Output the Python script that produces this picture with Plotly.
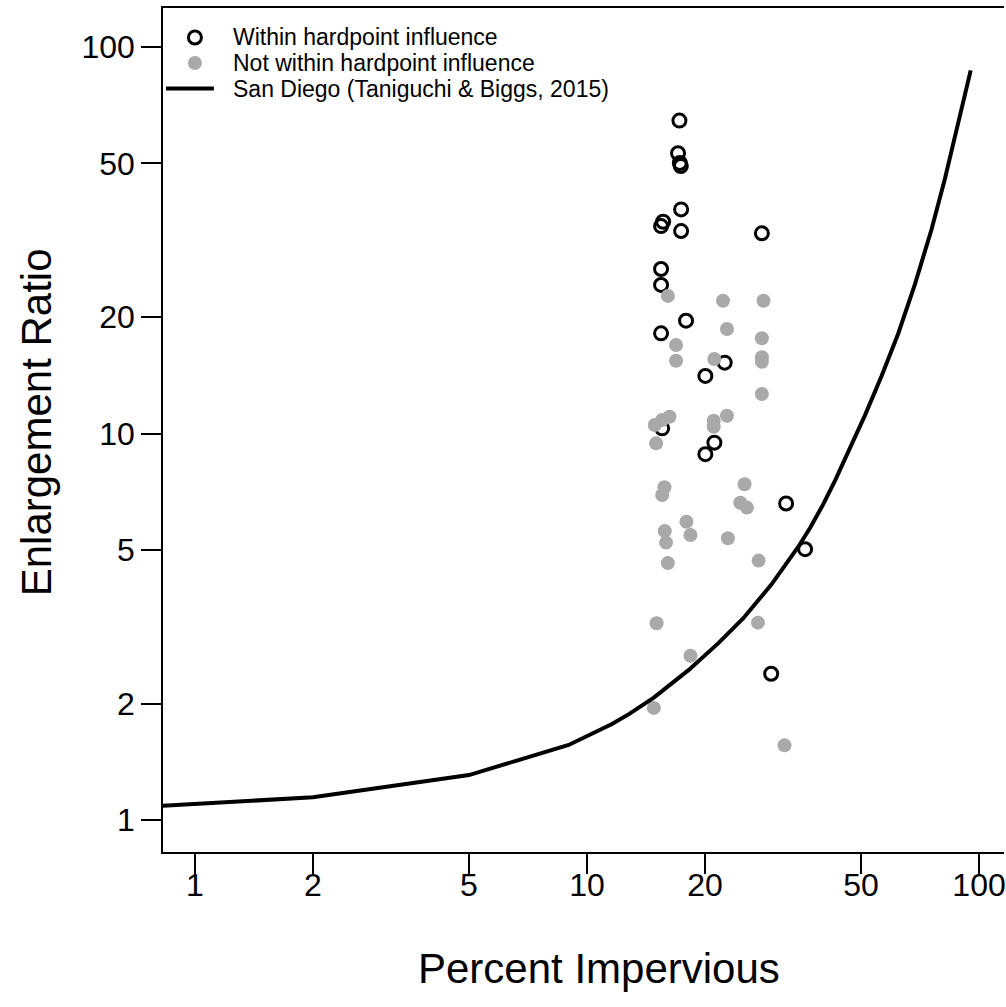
import plotly.graph_objects as go

# ---- data ----
within_x = [17.21, 17.07, 17.25, 17.35, 17.38, 15.64, 15.45, 17.38, 27.93, 15.45, 15.45,
            17.89, 15.45, 22.45, 20.04, 15.55, 21.13, 20.04, 32.2, 36.0, 29.5]
within_y = [64.5, 53.1, 50.1, 49.2, 38.0, 35.3, 34.4, 33.4, 32.96, 26.65, 24.23,
            19.58, 18.16, 15.25, 14.09, 10.31, 9.47, 8.84, 6.59, 5.02, 2.39]

not_x = [16.08, 22.23, 28.2, 22.75, 27.93, 16.87, 16.87, 21.13, 27.93, 27.93, 27.93, 22.75,
         16.23, 15.55, 14.89, 21.05, 21.05, 15.01, 15.76, 15.55, 25.23, 24.6, 25.58, 17.93,
         18.36, 15.79, 15.91, 22.88, 16.08, 27.4, 15.05, 27.29, 18.36, 14.81, 31.9]
not_y = [22.7, 22.06, 22.06, 18.64, 17.63, 16.94, 15.43, 15.59, 15.75, 15.34, 12.65, 11.12,
         11.05, 10.84, 10.52, 10.79, 10.41, 9.43, 7.26, 6.93, 7.39, 6.62, 6.43, 5.91,
         5.46, 5.59, 5.22, 5.36, 4.62, 4.69, 3.23, 3.24, 2.66, 1.95, 1.56]

sd_x = [0.8, 2, 5, 8.98, 11.58, 12.79, 14.81, 18.18, 21.67, 25.08, 29.56, 34.63, 37.15,
        40.09, 43.01, 46.42, 51.19, 56.41, 62.22, 68.6, 75.6, 81.8, 88.4, 95.2]
sd_y = [1.086, 1.145, 1.307, 1.564, 1.772, 1.879, 2.074, 2.445, 2.872, 3.333, 4.072, 5.101,
        5.718, 6.575, 7.585, 8.968, 11.16, 14.08, 18.15, 24.32, 33.65, 45.55, 63.1, 87.0]

tick_vals = [1, 2, 5, 10, 20, 50, 100]
tick_text = ["1", "2", "5", "10", "20", "50", "100"]

legend_labels = ["Within hardpoint influence",
                 "Not within hardpoint influence",
                 "San Diego (Taniguchi & Biggs, 2015)"]
x_title = "Percent Impervious"
y_title = "Enlargement Ratio"

FONT = "Liberation Sans, Arial, sans-serif"
GREY = "#A9A9A9"

fig = go.Figure()
fig.add_trace(go.Scatter(
    x=within_x, y=within_y, mode="markers", name=legend_labels[0],
    marker=dict(symbol="circle-open", size=13, color="black", line=dict(width=3, color="black")),
    showlegend=False))
fig.add_trace(go.Scatter(
    x=not_x, y=not_y, mode="markers", name=legend_labels[1],
    marker=dict(symbol="circle", size=14, color=GREY, line=dict(width=0)),
    showlegend=False))
fig.add_trace(go.Scatter(
    x=sd_x, y=sd_y, mode="lines", name=legend_labels[2],
    line=dict(color="black", width=4), showlegend=False))

# plot area in pixels: x 163..1006, y 8..852
W, H = 1006, 1007
L, R, T, B = 163, 0, 8, 155
pw, ph = W - L - R, H - T - B

def px2paper(px, py):
    return (px - L) / pw, (H - B - py) / ph

# manual legend (top-left, inside plot)
rows_y = [37.5, 63, 88.5]
sym_x = 195
text_x = 232
shapes = []
annotations = []
cx, cy = px2paper(sym_x, rows_y[0])
shapes.append(dict(type="circle", xref="paper", yref="paper", xsizemode="pixel", ysizemode="pixel",
                   xanchor=cx, yanchor=cy, x0=-6.5, x1=6.5, y0=-6.5, y1=6.5,
                   line=dict(color="black", width=3), fillcolor="rgba(0,0,0,0)"))
cx, cy = px2paper(sym_x, rows_y[1])
shapes.append(dict(type="circle", xref="paper", yref="paper", xsizemode="pixel", ysizemode="pixel",
                   xanchor=cx, yanchor=cy, x0=-7, x1=7, y0=-7, y1=7,
                   line=dict(color=GREY, width=0), fillcolor=GREY))
lx0, ly = px2paper(166, rows_y[2])
lx1, _ = px2paper(214, rows_y[2])
shapes.append(dict(type="line", xref="paper", yref="paper", x0=lx0, x1=lx1, y0=ly, y1=ly,
                   line=dict(color="black", width=4)))
for lab, ry in zip(legend_labels, rows_y):
    ax, ay = px2paper(text_x, ry)
    annotations.append(dict(text=lab, xref="paper", yref="paper", x=ax, y=ay,
                            xanchor="left", yanchor="middle", showarrow=False, borderpad=0,
                            font=dict(family=FONT, size=23, color="black")))

# axis titles placed as in the reference
tx, ty = px2paper(600, 968)
annotations.append(dict(text=x_title, xref="paper", yref="paper", x=tx, y=ty,
                        xanchor="center", yanchor="middle", showarrow=False,
                        font=dict(family=FONT, size=42, color="black")))
tx, ty = px2paper(36, 422)
annotations.append(dict(text=y_title, xref="paper", yref="paper", x=tx, y=ty, textangle=-90,
                        xanchor="center", yanchor="middle", showarrow=False,
                        font=dict(family=FONT, size=42, color="black")))

axis_common = dict(
    type="log", tickmode="array", tickvals=tick_vals, ticktext=tick_text,
    ticks="outside", ticklen=20, tickwidth=1.5, tickcolor="black",
    showline=True, linewidth=1.5, linecolor="black",
    showgrid=False, zeroline=False, ticklabeloverflow="allow",
    tickfont=dict(family=FONT, size=32, color="black"),
)

fig.update_layout(
    width=W, height=H,
    margin=dict(l=L, r=R, t=T, b=B, pad=0),
    paper_bgcolor="white", plot_bgcolor="white",
    font=dict(family=FONT, color="black"),
    xaxis=dict(**axis_common, range=[-0.0814, 2.0636], mirror=True, ticklabelstandoff=-16),
    yaxis=dict(**axis_common, range=[-0.0828, 2.1009], mirror=False),
    shapes=shapes, annotations=annotations,
    showlegend=False,
)

fig.write_html("out.html", config={"displayModeBar": False},
               post_script="document.body.style.margin='0';")
